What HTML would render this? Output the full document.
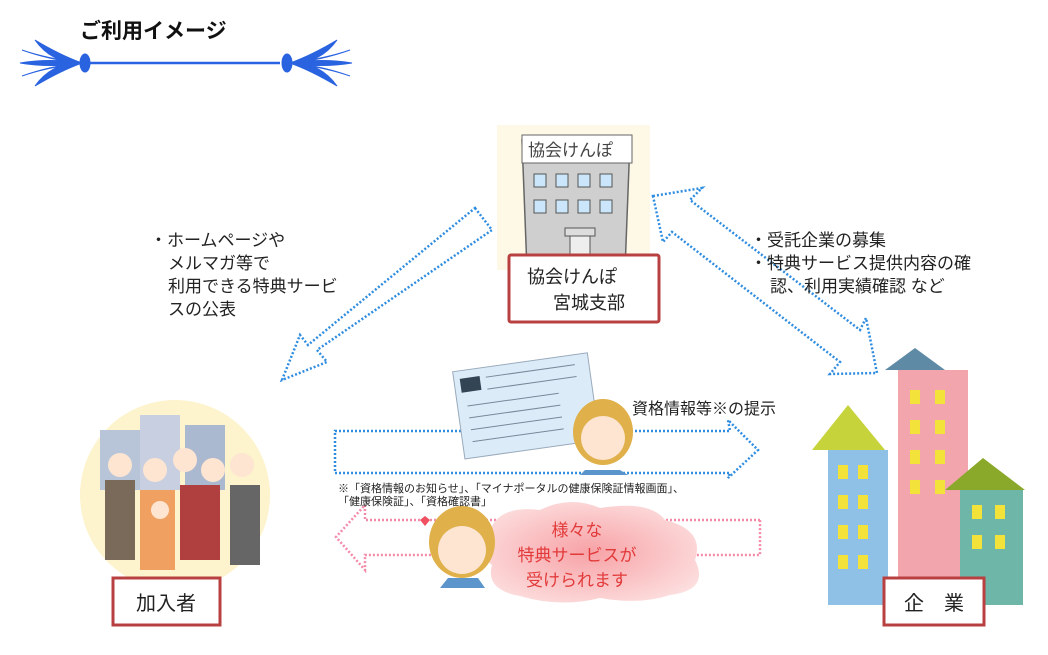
<!DOCTYPE html>
<html><head><meta charset="utf-8"><style>
body{margin:0;background:#fff;}
svg{display:block;font-family:"Liberation Sans","Noto Sans CJK JP",sans-serif;}
</style></head><body>
<svg width="1048" height="655" viewBox="0 0 1048 655" xmlns="http://www.w3.org/2000/svg">
<!-- title -->
<text x="80" y="38" font-size="21" font-weight="bold" fill="#111">ご利用イメージ</text>
<g fill="#2a63e0" stroke="#2a63e0">
<line x1="90" y1="63" x2="280" y2="63" stroke-width="2.5"/>
<path d="M20 63 Q50 58 80 63 Q50 68 20 63Z M35 40 Q60 55 82 63 Q52 64 35 40Z M35 86 Q60 71 82 63 Q52 62 35 86Z M22 50 Q50 60 80 63 Q45 58 22 50Z M22 76 Q50 66 80 63 Q45 68 22 76Z"/>
<ellipse cx="85" cy="63" rx="5" ry="9"/>
<path d="M352 63 Q322 58 292 63 Q322 68 352 63Z M337 40 Q312 55 290 63 Q320 64 337 40Z M337 86 Q312 71 290 63 Q320 62 337 86Z M350 50 Q322 60 292 63 Q327 58 350 50Z M350 76 Q322 66 292 63 Q327 68 350 76Z"/>
<ellipse cx="287" cy="63" rx="5" ry="9"/>
</g>
<!-- building center -->
<rect x="497" y="125" width="153" height="145" fill="#fdf9e6"/>
<path d="M522 140 L630 140 L625 270 L527 270Z" fill="#cfcfcf" stroke="#666" stroke-width="1.5"/>
<rect x="522" y="135" width="110" height="28" fill="#fff" stroke="#666"/>
<text x="528" y="156" font-size="17" fill="#444">協会けんぽ</text>
<g fill="#cbe6fb" stroke="#555">
<rect x="534" y="174" width="12" height="13"/><rect x="556" y="174" width="12" height="13"/><rect x="578" y="174" width="12" height="13"/><rect x="600" y="174" width="12" height="13"/>
<rect x="534" y="200" width="12" height="13"/><rect x="556" y="200" width="12" height="13"/><rect x="578" y="200" width="12" height="13"/><rect x="600" y="200" width="12" height="13"/>
</g>
<rect x="565" y="228" width="30" height="8" fill="#ddd" stroke="#555"/>
<rect x="570" y="236" width="20" height="30" fill="#eee" stroke="#555"/>
<rect x="509" y="255" width="150" height="67" fill="#fff" stroke="#b84040" stroke-width="3" rx="2"/>
<text x="527" y="283" font-size="18" fill="#222">協会けんぽ</text>
<text x="553" y="309" font-size="18" fill="#222">宮城支部</text>
<!-- diagonal arrows -->
<g fill="none" stroke="#2f8de0" stroke-width="2.5" stroke-dasharray="2 2">
<path d="M475 208 L492 230 L317 350 L327 362 L282 380 L300 335 L308 345 L475 208Z"/>
<path d="M653 196 L702 188 L690 200 L860 330 L866 318 L877 373 L830 374 L840 362 L672 232 L663 242Z"/>
<path d="M335 433 L730 433 L728 422 L758 452 L728 480 L730 475 L335 475Z" transform="translate(0,-2)"/>
</g>
<g fill="none" stroke="#f28aa8" stroke-width="2.5" stroke-dasharray="2 2">
<path d="M760 520 L365 520 L365 505 L336 537 L365 570 L365 555 L760 555Z"/>
</g>
<!-- left text -->
<g font-size="17" fill="#222">
<text x="150" y="246">・ホームページや</text>
<text x="168" y="269">メルマガ等で</text>
<text x="168" y="292">利用できる特典サービ</text>
<text x="168" y="315">スの公表</text>
<text x="750" y="246">・受託企業の募集</text>
<text x="750" y="269">・特典サービス提供内容の確</text>
<text x="770" y="292">認、利用実績確認 など</text>
<text x="632" y="414" font-size="16">資格情報等※の提示</text>
</g>
<!-- card -->
<g transform="rotate(-8 525 405)">
<rect x="458" y="362" width="136" height="88" fill="#dcebf8" stroke="#9ab" />
<rect x="464" y="370" width="20" height="14" fill="#345"/>
<g stroke="#789" stroke-width="1"><line x1="490" y1="372" x2="580" y2="372"/><line x1="490" y1="384" x2="580" y2="384"/><line x1="468" y1="398" x2="560" y2="398"/><line x1="468" y1="410" x2="560" y2="410"/><line x1="468" y1="422" x2="560" y2="422"/><line x1="468" y1="434" x2="560" y2="434"/></g>
</g>
<!-- woman1 -->
<ellipse cx="603" cy="432" rx="30" ry="33" fill="#e0b04a"/>
<circle cx="603" cy="438" r="22" fill="#fde5d2"/>
<path d="M585 470 L620 470 L628 475 L580 475Z" fill="#5b95cc"/>
<!-- cloud -->
<defs><radialGradient id="cg" cx="0.5" cy="0.5" r="0.6"><stop offset="0" stop-color="#f7a2a6"/><stop offset="1" stop-color="#fde0e0"/></radialGradient></defs>
<path d="M490 530 Q500 505 540 510 Q570 495 600 508 Q650 500 665 520 Q705 530 695 560 Q710 590 670 595 Q640 605 600 598 Q560 608 520 596 Q485 590 492 565 Q470 548 490 530Z" fill="url(#cg)"/>
<g font-size="17" fill="#e23a3a" text-anchor="middle">
<text x="577" y="536">様々な</text><text x="577" y="561">特典サービスが</text><text x="577" y="586">受けられます</text>
</g>
<ellipse cx="462" cy="542" rx="33" ry="36" fill="#e0b04a"/>
<circle cx="462" cy="550" r="24" fill="#fde5d2"/>
<path d="M448 578 L478 578 L485 588 L440 588Z" fill="#5b95cc"/>
<path d="M420 520 l5 -4 l5 4 l-5 6z" fill="#f05060"/>
<!-- note -->
<g font-size="11" fill="#222">
<text x="338" y="492">※「資格情報のお知らせ」、「マイナポータルの健康保険証情報画面」、</text>
<text x="338" y="505">「健康保険証」、「資格確認書」</text>
</g>
<!-- people -->
<circle cx="175" cy="495" r="95" fill="#fdf3cc"/>
<rect x="100" y="430" width="45" height="60" fill="#b8c4d8"/>
<rect x="140" y="415" width="40" height="75" fill="#c7cfe0"/>
<rect x="185" y="425" width="40" height="65" fill="#aab8d0"/>
<g fill="#7a6a5a"><rect x="105" y="480" width="30" height="80"/><rect x="230" y="485" width="30" height="80" fill="#666"/></g>
<g fill="#c88">
<rect x="140" y="490" width="35" height="80" fill="#f0a060"/><rect x="180" y="485" width="40" height="75" fill="#b04040"/>
</g>
<g fill="#fde5d2"><circle cx="120" cy="465" r="12"/><circle cx="155" cy="470" r="12"/><circle cx="185" cy="460" r="12"/><circle cx="213" cy="470" r="12"/><circle cx="242" cy="465" r="12"/><circle cx="160" cy="510" r="9"/></g>
<rect x="113" y="578" width="107" height="47" fill="#fff" stroke="#b84040" stroke-width="3"/>
<text x="166" y="610" font-size="20" fill="#222" text-anchor="middle">加入者</text>
<!-- companies -->
<path d="M885 370 L915 348 L945 370Z" fill="#5e8aa5"/>
<rect x="898" y="370" width="70" height="235" fill="#f3a5ad"/>
<path d="M812 450 L848 405 L885 450Z" fill="#c6d33a"/>
<rect x="828" y="450" width="60" height="155" fill="#8fc0e6"/>
<path d="M945 490 L983 458 L1025 490Z" fill="#8aa82a"/>
<rect x="960" y="490" width="63" height="115" fill="#6eb6a8"/>
<g fill="#f3e23a">
<rect x="838" y="465" width="10" height="14"/><rect x="858" y="465" width="10" height="14"/>
<rect x="838" y="495" width="10" height="14"/><rect x="858" y="495" width="10" height="14"/>
<rect x="838" y="525" width="10" height="14"/><rect x="858" y="525" width="10" height="14"/>
<rect x="838" y="555" width="10" height="14"/><rect x="858" y="555" width="10" height="14"/>
<rect x="910" y="390" width="10" height="14"/><rect x="935" y="390" width="10" height="14"/>
<rect x="910" y="420" width="10" height="14"/><rect x="935" y="420" width="10" height="14"/>
<rect x="910" y="450" width="10" height="14"/><rect x="935" y="450" width="10" height="14"/>
<rect x="910" y="480" width="10" height="14"/><rect x="935" y="480" width="10" height="14"/>
<rect x="972" y="505" width="10" height="14"/><rect x="995" y="505" width="10" height="14"/>
<rect x="972" y="535" width="10" height="14"/><rect x="995" y="535" width="10" height="14"/>
</g>
<rect x="884" y="578" width="100" height="47" fill="#fff" stroke="#b84040" stroke-width="3"/>
<text x="934" y="610" font-size="20" fill="#222" text-anchor="middle">企　業</text>
</svg>
</body></html>
